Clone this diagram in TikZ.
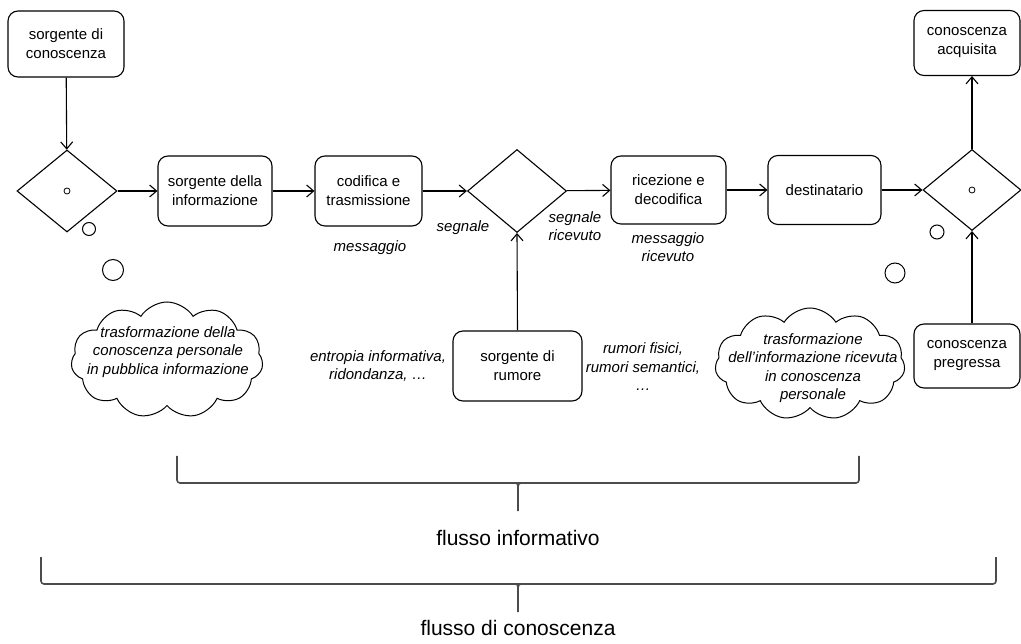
\documentclass[tikz,border=0pt]{standalone}
\usepackage{fontspec}
\setmainfont{Liberation Sans}
\usetikzlibrary{shapes.geometric,shapes.symbols,arrows.meta}

\tikzset{
  box/.style={draw, rounded corners=10, align=center, inner sep=0, line width=1.1pt},
  gate/.style={draw, diamond, inner sep=0, line width=1.1pt, minimum width=100, minimum height=82},
  dot/.style={draw, circle, inner sep=0, minimum size=6, line width=0.8pt},
  bubble/.style={draw, circle, inner sep=0, line width=1pt},
  thought/.style={draw, cloud, cloud puffs=11, cloud puff arc=115, cloud ignores aspect, inner sep=0, line width=1pt},
  flow/.style={line width=1.1pt, -{Straight Barb[length=7,width=12,line width=1.1pt]}},
  note/.style={font=\fontsize{15}{18.5}\selectfont\itshape, align=center},
  bracket/.style={draw=black!70, line width=1.6pt, rounded corners=3},
  caption/.style={font=\fontsize{21}{24}\selectfont}
}

\begin{document}
\begin{tikzpicture}[x=1pt, y=-1pt, font=\fontsize{15}{19}\selectfont]
      \useasboundingbox (0,0) rectangle (1021,644);
      % Boxes
      \node[box, minimum width=116, minimum height=66] (knowsrc) at (66,44) {sorgente di\\conoscenza};
      \node[box, minimum width=114, minimum height=70] (infosrc) at (215,191) {sorgente della\\informazione};
      \node[box, minimum width=107, minimum height=70] (encode) at (368.5,191) {codifica e\\trasmissione};
      \node[box, minimum width=115, minimum height=68] (decode) at (668.5,190) {ricezione e\\decodifica};
      \node[box, minimum width=113, minimum height=69] (dest) at (824.5,190) {destinatario};
      \node[box, minimum width=106, minimum height=65] (gained) at (967,43) {conoscenza\\acquisita};
      \node[box, minimum width=106, minimum height=64] (prior) at (967,356) {conoscenza\\pregressa};
      \node[box, minimum width=129, minimum height=70] (noise) at (517.5,366) {sorgente di\\rumore};
      % Diamonds
      \node[gate] (join1) at (67,191) {};
      \node[gate, minimum width=99, minimum height=83] (join2) at (517,191) {};
      \node[gate, minimum width=98, minimum height=81] (join3) at (972,190) {};
      \node[dot] (join1o) at (join1) {};
      \node[dot] (join3o) at (join3) {};
      % Thought bubbles
      \node[bubble, minimum size=13] (b1a) at (89,229) {};
      \node[bubble, minimum size=21] (b1b) at (113,270) {};
      \node[bubble, minimum size=14] (b2a) at (937,232) {};
      \node[bubble, minimum size=20] (b2b) at (895,273) {};
      \node[thought, minimum width=192, minimum height=116] (cloudA) at (167,360) {};
      \node[thought, minimum width=190, minimum height=112] (cloudB) at (810,364) {};
      \node[note] (cloudAtxt) at (168,352) {trasformazione della\\conoscenza personale\\in pubblica informazione};
      \node[note] (cloudBtxt) at (813,368) {trasformazione\\dell'informazione ricevuta\\in conoscenza\\personale};
      % Labels
      \node[note] (msg) at (370,248) {messaggio};
      \node[note] (sig) at (463,228) {segnale};
      \node[note] (sigrx) at (575,226) {segnale\\ricevuto};
      \node[note] (msgrx) at (668,247) {messaggio\\ricevuto};
      \node[note] (entropy) at (378,366) {entropia informativa,\\ridondanza, \dots};
      \node[note] (noises) at (643,367) {rumori fisici,\\rumori semantici,\\\dots};
      % Connectors
      \draw[flow] (knowsrc) -- (join1);
      \draw[flow] (join1) -- (infosrc);
      \draw[flow] (infosrc) -- (encode);
      \draw[flow] (encode) -- (join2);
      \draw[flow] (join2) -- (decode);
      \draw[flow] (decode) -- (dest);
      \draw[flow] (dest.east) -- (join3.west);
      \draw[flow] (join3.north) -- (join3.north |- gained.south);
      \draw[flow] (join3.south |- prior.north) -- (join3.south);
      \draw[flow] (noise.north) -- (join2.south);
      % Brackets
      \coordinate (tip1) at (518,511);
      \coordinate (tip2) at (518,612);
      \draw[bracket] (177,456) -- (177,483) -- (859,483) -- (859,456);
      \draw[bracket] (512,483) .. controls (518,483) .. (518,492) -- (tip1);
      \draw[bracket] (524,483) .. controls (518,483) .. (518,492);
      \draw[bracket] (41,557) -- (41,584) -- (996,584) -- (996,557);
      \draw[bracket] (512,584) .. controls (518,584) .. (518,593) -- (tip2);
      \draw[bracket] (524,584) .. controls (518,584) .. (518,593);
      \node[caption] (infoflow) at (518,538) {flusso informativo};
      \node[caption] (knowflow) at (518,628) {flusso di conoscenza};
    \end{tikzpicture}
\end{document}
